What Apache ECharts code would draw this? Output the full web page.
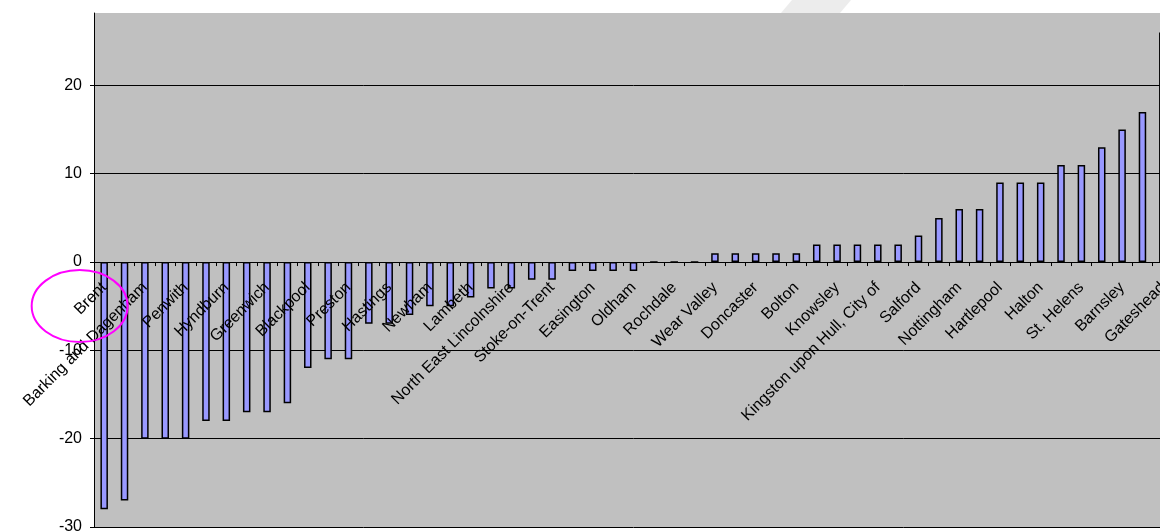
<!DOCTYPE html>
<html>
<head>
<meta charset="utf-8">
<script src="https://cdn.jsdelivr.net/npm/echarts@6/dist/echarts.min.js"></script>
<style>
html,body{margin:0;padding:0;background:#fff;overflow:hidden;}
#wrap{width:1160px;height:531px;overflow:hidden;position:relative;}
#chart{width:1173px;height:531px;position:absolute;left:0;top:0;}
</style>
</head>
<body>
<div id="wrap"><div id="chart"></div></div>
<script>
// Labelled categories (every other category carries a label)
const labelNames = [
  "Brent", "Barking and Dagenham", "Penwith", "Hyndburn", "Greenwich", "Blackpool",
  "Preston", "Hastings", "Newham", "Lambeth", "North East Lincolnshire", "Stoke-on-Trent",
  "Easington", "Oldham", "Rochdale", "Wear Valley", "Doncaster", "Bolton", "Knowsley",
  "Kingston upon Hull, City of", "Salford", "Nottingham", "Hartlepool", "Halton",
  "St. Helens", "Barnsley", "Gateshead"
];
// Values for all 53 categories
const values = [
  -28, -27, -20, -20, -20, -18, -18, -17, -17, -16,
  -12, -11, -11, -7, -7, -6, -5, -5, -4, -3,
  -3, -2, -2, -1, -1, -1, -1, 0, 0, 0,
  1, 1, 1, 1, 1, 2, 2, 2, 2, 2,
  3, 5, 6, 6, 9, 9, 9, 11, 11, 13,
  15, 17, 26
];
const yTicks = [-30, -20, -10, 0, 10, 20];
const yMin = -30, yMax = 28.2;

const categories = values.map((v, i) => (i % 2 === 0 ? labelNames[i / 2] : ''));

const FONT = 'Liberation Sans, Arial, sans-serif';
const chart = echarts.init(document.getElementById('chart'), null, {renderer: 'canvas'});

chart.setOption({
  animation: false,
  backgroundColor: '#ffffff',
  grid: {
    left: 94, top: 13, right: 0, bottom: 4,
    show: true, backgroundColor: '#C0C0C0', borderWidth: 0,
    containLabel: false, outerBoundsMode: 'none'
  },
  xAxis: {
    type: 'category',
    data: categories,
    boundaryGap: true,
    position: 'bottom',
    offset: 0,
    z: 10,
    axisLine: {show: true, onZero: false, lineStyle: {color: '#000', width: 1}},
    axisTick: {show: true, inside: false, length: 4, interval: 0, lineStyle: {color: '#000', width: 1}},
    axisLabel: {
      show: true, interval: 0, rotate: 45, margin: 23, fontSize: 16, color: '#000',
      fontFamily: FONT
    },
    splitLine: {show: false}
  },
  yAxis: {
    type: 'value',
    min: yMin, max: yMax, interval: 10,
    axisLine: {show: true, lineStyle: {color: '#000', width: 1}},
    axisTick: {show: true, inside: false, length: 4, lineStyle: {color: '#000'}},
    axisLabel: {
      fontSize: 16, color: '#000', fontFamily: FONT, margin: 12, showMaxLabel: false,
      formatter: v => (yTicks.indexOf(v) >= 0 ? String(v) : '')
    },
    splitLine: {show: true, showMaxLine: false, lineStyle: {color: '#000', width: 1}}
  },
  series: [{
    type: 'bar',
    data: values,
    barWidth: 7.5,
    z: 2,
    itemStyle: {color: '#9999FF', borderColor: '#000', borderWidth: 1.5}
  }]
});

// Move the category axis up to the zero line (derived from the value scale)
const zeroY = chart.convertToPixel({yAxisIndex: 0}, 0);
const bottomY = chart.convertToPixel({yAxisIndex: 0}, yMin);
const p = chart.convertToPixel({xAxisIndex: 0, yAxisIndex: 0}, [0, 0]);

chart.setOption({
  xAxis: {offset: zeroY - bottomY},
  graphic: [
    {
      type: 'ellipse',
      shape: {cx: p[0] - 24.5, cy: p[1] + 44, rx: 48, ry: 36},
      style: {fill: null, stroke: '#FF00FF', lineWidth: 2},
      z: 100
    },
    {
      type: 'polygon',
      shape: {points: [[781, 13], [792, 0], [851, 0], [840, 13]]},
      style: {fill: '#ececec', stroke: null},
      z: 1
    }
  ]
});
</script>
</body>
</html>
